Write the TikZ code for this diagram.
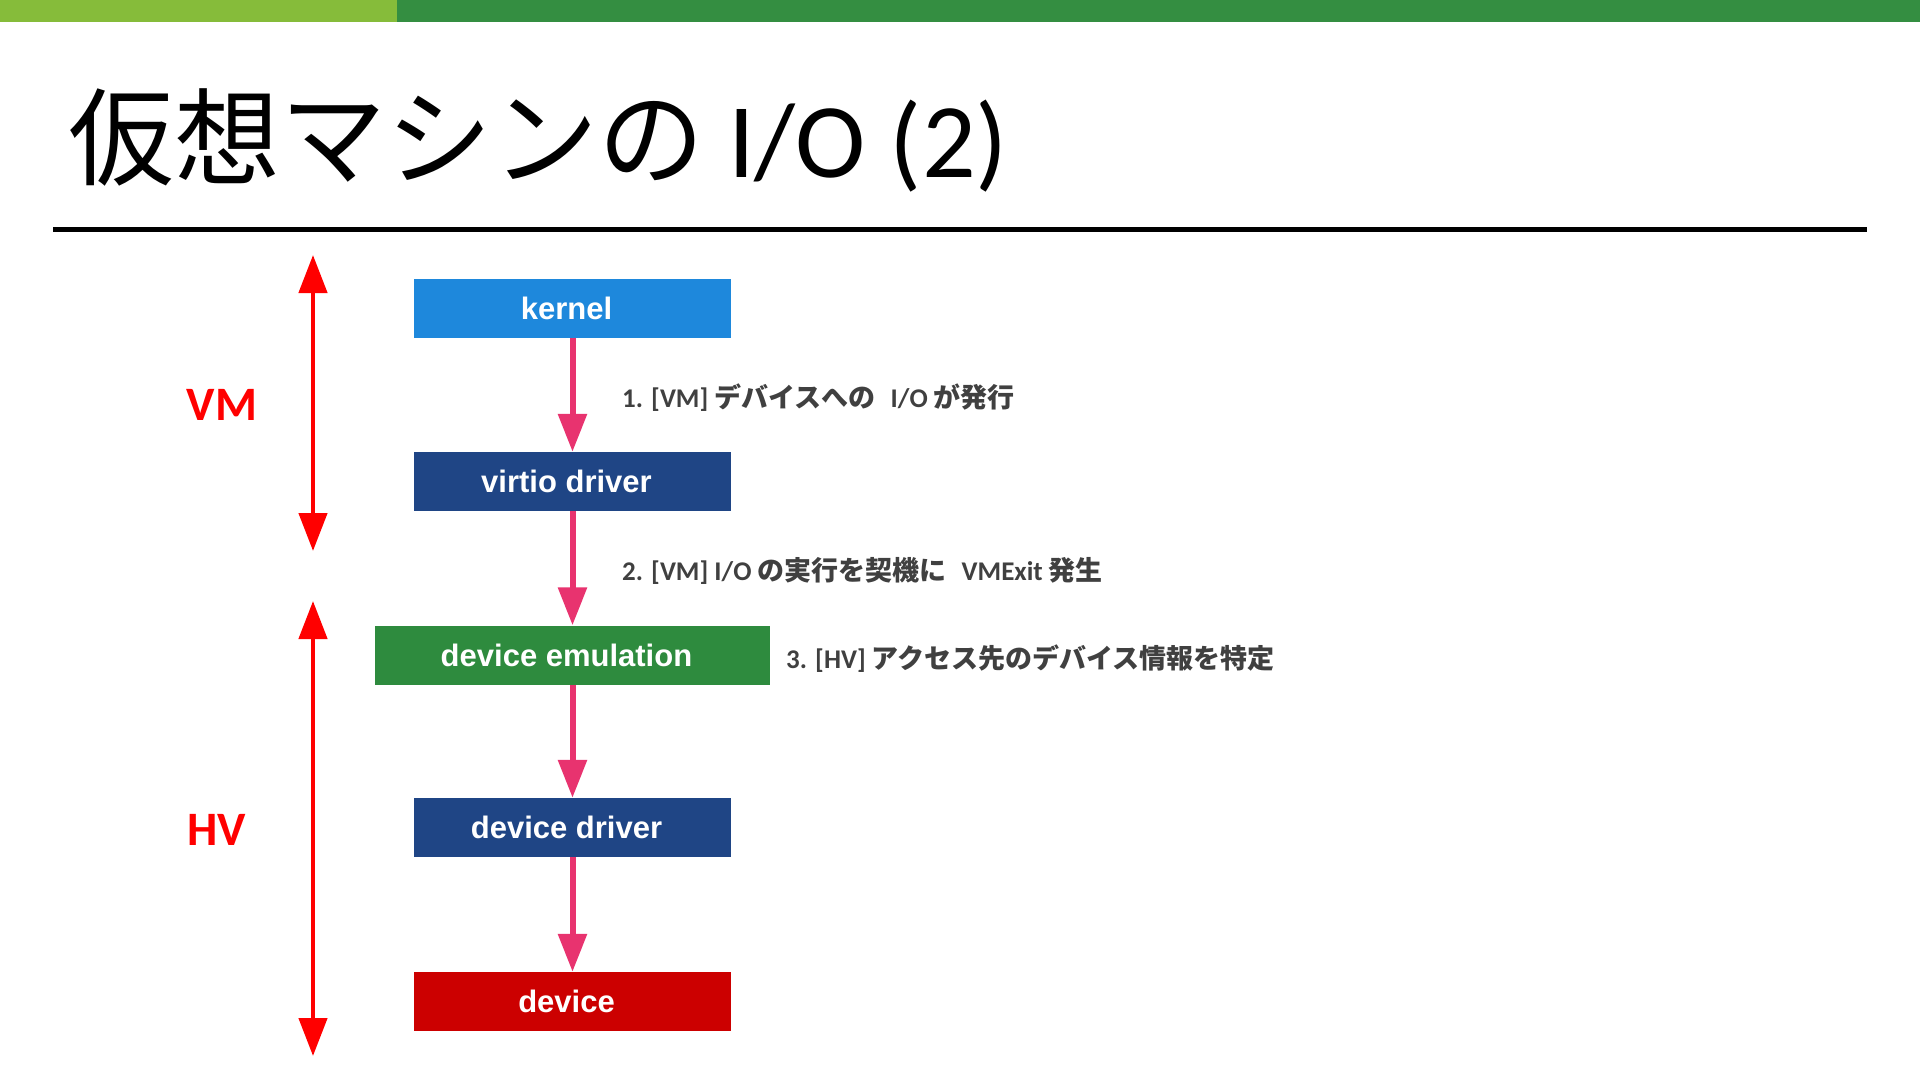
\documentclass[tikz,border=0pt]{standalone}
\usepackage{fontspec}
\setmainfont{Carlito}
\newfontfamily\jp{Noto Sans CJK JP}
\newfontfamily\boxfont{Liberation Sans}
\usetikzlibrary{arrows.meta}
\definecolor{lgreen}{HTML}{86BC3A}
\definecolor{dgreen}{HTML}{348E41}
\definecolor{kblue}{HTML}{1E88DC}
\definecolor{nblue}{HTML}{1F4585}
\definecolor{egreen}{HTML}{2E8B3E}
\definecolor{dred}{HTML}{CC0000}
\definecolor{apink}{HTML}{E8336F}
\definecolor{lgray}{HTML}{404040}
\newcommand{\boxtxt}[1]{#1\hspace*{12pt}}
\begin{document}
\begin{tikzpicture}[x=1pt,y=-1pt,
  blk/.style={minimum height=59pt, inner sep=0pt, text=white,
    font=\boxfont\bfseries\fontsize{31}{36}\selectfont},
  flow/.style={draw=apink, line width=6pt, -{Triangle[width=28pt,length=38pt]}},
  span/.style={draw=red, line width=4.5pt, {Triangle[width=28pt,length=38pt]}-{Triangle[width=28pt,length=38pt]}},
  side/.style={text=red, font=\bfseries\fontsize{48}{56}\selectfont},
  lbl/.style={anchor=west, inner sep=0pt, text=lgray, font=\bfseries\fontsize{27}{32}\selectfont}]
\useasboundingbox (0,0) rectangle (1920,1081);
\fill[lgreen] (0,0) rectangle (397,22);
\fill[dgreen] (397,0) rectangle (1920,22);
\node[anchor=west, inner sep=0pt, font=\fontsize{106}{120}\selectfont] (title) at (68,140) {{\jp 仮想マシンの} I/O (2)};
\draw[line width=5pt] (53,229) -- (1867,229);

\node[blk, fill=kblue, minimum width=317pt] (kernel) at (572.5,308.5) {\boxtxt{kernel}};
\node[blk, fill=nblue, minimum width=317pt] (virtio) at (572.5,481.5) {\boxtxt{virtio driver}};
\node[blk, fill=egreen, minimum width=395pt] (emu) at (572.5,655) {\boxtxt{device emulation}};
\node[blk, fill=nblue, minimum width=317pt] (ddrv) at (572.5,827.5) {\boxtxt{device driver}};
\node[blk, fill=dred, minimum width=317pt] (dev) at (572.5,1001.5) {\boxtxt{device}};

\draw[flow] (kernel) -- (virtio);
\draw[flow] (virtio) -- (emu);
\draw[flow] (emu) -- (ddrv);
\draw[flow] (ddrv) -- (dev);

\coordinate (vmtop) at (313,255);
\coordinate (vmbot) at (313,551);
\coordinate (hvtop) at (313,601);
\coordinate (hvbot) at (313,1056);
\draw[span] (vmtop) -- (vmbot);
\draw[span] (hvtop) -- (hvbot);
\node[side] (vm) at (222,405) {VM};
\node[side] (hv) at (217,830) {HV};

\node[lbl] (l1) at (622,398) {1. [VM] {\jp デバイスへの}\hspace{9pt} I/O {\jp が発行}};
\node[lbl] (l2) at (622,571) {2. [VM] I/O {\jp の実行を契機に}\hspace{9pt} VMExit {\jp 発生}};
\node[lbl] (l3) at (786,659) {3. [HV] {\jp アクセス先のデバイス情報を特定}};
\end{tikzpicture}
\end{document}
